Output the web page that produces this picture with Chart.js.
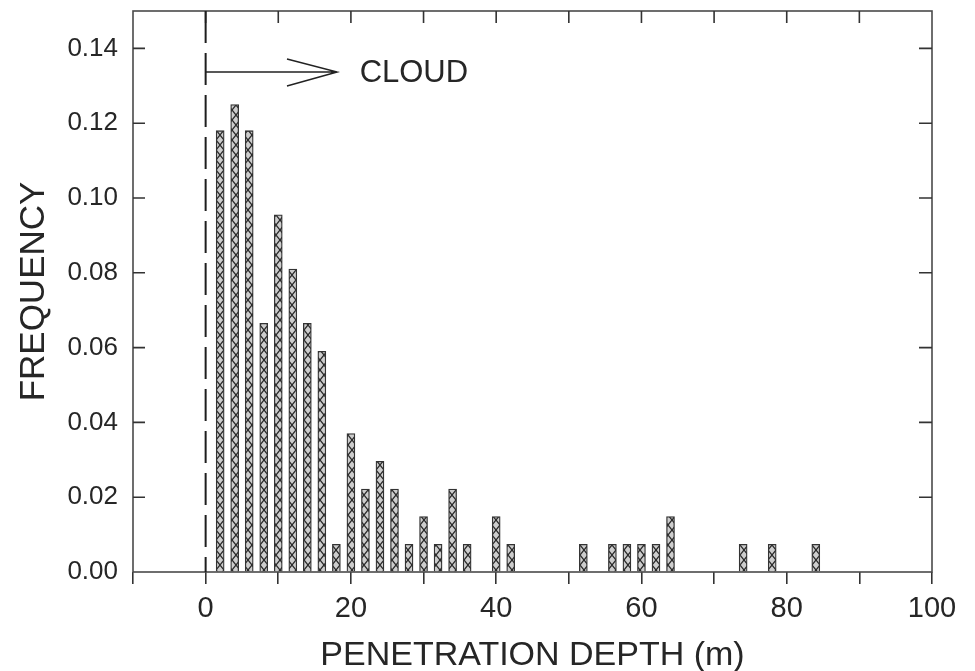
<!DOCTYPE html>
<html>
<head>
<meta charset="utf-8">
<script src="https://cdn.jsdelivr.net/npm/chart.js@4"></script>
<style>
  html, body { margin: 0; padding: 0; background: #fff; }
  #wrap { width: 975px; height: 671px; }
</style>
</head>
<body>
<div id="wrap"><canvas id="c" width="975" height="671"></canvas></div>
<script>
// ---- data ----
const depths = [2, 4, 6, 8, 10, 12, 14, 16, 18, 20, 22, 24, 26, 28, 30, 32, 34, 36, 40, 42, 52, 56, 58, 60, 62, 64, 74, 78, 84];
const frequencies = [0.118, 0.125, 0.118, 0.0665, 0.0955, 0.081, 0.0665, 0.059, 0.0074, 0.037, 0.0222, 0.0296, 0.0222, 0.0074, 0.0148, 0.0074, 0.0222, 0.0074, 0.0148, 0.0074, 0.0074, 0.0074, 0.0074, 0.0074, 0.0074, 0.0148, 0.0074, 0.0074, 0.0074];
const xTickLabels = [0, 20, 40, 60, 80, 100];
const yTickLabels = ['0.00', '0.02', '0.04', '0.06', '0.08', '0.10', '0.12', '0.14'];
const xTitle = 'PENETRATION DEPTH (m)';
const yTitle = 'FREQUENCY';
const cloudLabel = 'CLOUD';
// annotation anchor (data space): arrow from depth 0 to ~18 at frequency ~0.1337
const arrowStart = 0, arrowEnd = 18.1, arrowBack = 11.2, arrowLevel = 0.1337, labelAt = 21.2;

const FONT = '"Liberation Sans", Arial, sans-serif';
const INK = '#262626';

function hatchPattern() {
  const p = document.createElement('canvas');
  p.width = 8; p.height = 10;
  const g = p.getContext('2d');
  g.fillStyle = '#cdcdcd';
  g.fillRect(0, 0, 8, 10);
  g.strokeStyle = '#2a2a2a';
  g.lineWidth = 1.3;
  g.beginPath();
  g.moveTo(0, 0); g.lineTo(8, 10);
  g.moveTo(8, 0); g.lineTo(0, 10);
  g.stroke();
  return document.getElementById('c').getContext('2d').createPattern(p, 'repeat');
}

const decor = {
  id: 'decor',
  afterDatasetsDraw(chart) {
    const {ctx, chartArea: a, scales: {x, y}} = chart;
    ctx.save();
    ctx.strokeStyle = '#4a4a4a';
    ctx.lineWidth = 1.6;
    ctx.strokeRect(a.left, a.top, a.right - a.left, a.bottom - a.top);
    ctx.strokeStyle = '#333';
    ctx.beginPath();
    for (let v = 0; v < 100; v += 10) {
      const px = x.getPixelForValue(v);
      ctx.moveTo(px, a.top); ctx.lineTo(px, a.top + 12);
    }
    for (let i = 1; i < yTickLabels.length; i++) {
      const py = y.getPixelForValue(parseFloat(yTickLabels[i]));
      ctx.moveTo(a.left, py); ctx.lineTo(a.left + 12, py);
      ctx.moveTo(a.right, py); ctx.lineTo(a.right - 13, py);
    }
    ctx.stroke();
    const x0 = x.getPixelForValue(arrowStart);
    ctx.strokeStyle = '#1e1e1e';
    ctx.lineWidth = 2;
    ctx.setLineDash([32, 10]);
    ctx.beginPath();
    ctx.moveTo(x0, a.top); ctx.lineTo(x0, a.bottom);
    ctx.stroke();
    ctx.setLineDash([]);
    const ay = y.getPixelForValue(arrowLevel);
    const ax1 = x.getPixelForValue(arrowEnd);
    const ab = x.getPixelForValue(arrowBack);
    ctx.lineWidth = 1.5;
    ctx.strokeStyle = '#222';
    ctx.beginPath();
    ctx.moveTo(x0, ay); ctx.lineTo(ax1, ay);
    ctx.moveTo(ab, ay - 13); ctx.lineTo(ax1, ay);
    ctx.lineTo(ab, ay + 14);
    ctx.stroke();
    ctx.fillStyle = INK;
    ctx.font = '31px ' + FONT;
    ctx.textBaseline = 'middle';
    ctx.textAlign = 'left';
    ctx.fillText(cloudLabel, x.getPixelForValue(labelAt), ay + 1);
    ctx.restore();
  }
};

const ctx = document.getElementById('c').getContext('2d');
new Chart(ctx, {
  type: 'bar',
  data: {
    datasets: [{
      data: depths.map((d, i) => ({x: d, y: frequencies[i]})),
      backgroundColor: hatchPattern(),
      borderColor: '#333',
      borderWidth: 1.3,
      barThickness: 8
    }]
  },
  options: {
    responsive: false,
    animation: false,
    events: [],
    layout: { padding: { top: 11, right: 43, left: 0, bottom: 0 } },
    plugins: { legend: { display: false }, tooltip: { enabled: false } },
    scales: {
      x: {
        type: 'linear',
        min: -10, max: 100,
        offset: false,
        border: { display: false },
        grid: { drawOnChartArea: false, drawTicks: true, tickLength: 12, color: '#333', lineWidth: 1.6, offset: false },
        ticks: {
          stepSize: 10,
          autoSkip: false,
          maxRotation: 0,
          padding: 8,
          color: INK,
          font: { family: FONT, size: 29 },
          callback: v => xTickLabels.includes(v) ? String(v) : ''
        },
        title: { display: true, text: xTitle, color: INK, font: { family: FONT, size: 34, lineHeight: 0.9 }, padding: { top: 0, bottom: 0 } },
        afterFit: s => { s.height = 99; s.paddingLeft = 0; s.paddingRight = 0; }
      },
      y: {
        min: 0, max: 0.15,
        border: { display: false },
        grid: { drawOnChartArea: false, drawTicks: false },
        ticks: {
          stepSize: 0.02,
          includeBounds: false,
          padding: 15,
          color: INK,
          font: { family: FONT, size: 26 },
          callback: (v) => { const s = v.toFixed(2); return yTickLabels.includes(s) ? s : ''; }
        },
        title: { display: true, text: yTitle, color: INK, font: { family: FONT, size: 35 }, padding: { top: 13, bottom: 0 } },
        afterFit: s => { s.width = 133; s.paddingTop = 0; s.paddingBottom = 0; }
      }
    }
  },
  plugins: [decor]
});
</script>
</body>
</html>
